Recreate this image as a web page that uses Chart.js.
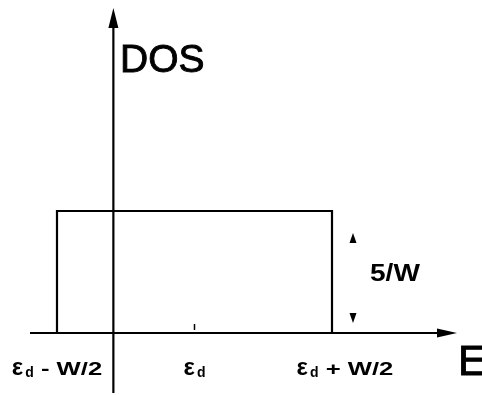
<!DOCTYPE html>
<html>
<head>
<meta charset="utf-8">
<script src="https://cdn.jsdelivr.net/npm/chart.js@4.4.1/dist/chart.umd.min.js"></script>
<style>
  html, body { margin: 0; padding: 0; background: #fff; }
  #wrap { width: 482px; height: 395px; position: relative; }
</style>
</head>
<body>
<div id="wrap"><canvas id="dos"></canvas></div>
<script>
// Flat-band density of states: constant between eps_d - W/2 and eps_d + W/2
const energies = [-1, -1, 1, 1];      // in units of W/2, centred on eps_d
const dosValues = [0, 1, 1, 0];       // height in units of 5/W
const tickValues = [-1, 0, 1];
const tickLabels = [
  { main: 'ε', sub: 'd', rest: ' - W/2' },
  { main: 'ε', sub: 'd', rest: '' },
  { main: 'ε', sub: 'd', rest: ' + W/2' }
];
const heightLabel = '5/W';
const dosAxisAt = -0.59;              // energy where the DOS axis crosses

const FONT = '"Liberation Sans", Arial, Helvetica, sans-serif';

function arrowHead(ctx, tipX, tipY, dir, len, half){
  // dir: 'up' | 'down' | 'right'
  ctx.beginPath();
  if(dir === 'up'){
    ctx.moveTo(tipX, tipY); ctx.lineTo(tipX - half, tipY + len); ctx.lineTo(tipX + half, tipY + len);
  } else if(dir === 'down'){
    ctx.moveTo(tipX, tipY); ctx.lineTo(tipX - half, tipY - len); ctx.lineTo(tipX + half, tipY - len);
  } else {
    ctx.moveTo(tipX, tipY); ctx.lineTo(tipX - len, tipY - half); ctx.lineTo(tipX - len, tipY + half);
  }
  ctx.closePath();
  ctx.fill();
}

// epsilon with subscript d, then the stretched remainder, centred on cx
function drawEpsLabel(ctx, lab, cx, baseY){
  const epsFont = `bold 24px ${FONT}`;
  const subFont = `bold 14px ${FONT}`;
  const restFont = `bold 19px ${FONT}`;
  const stretch = 1.35;
  ctx.save();
  ctx.textAlign = 'left';
  ctx.textBaseline = 'alphabetic';
  ctx.font = epsFont;
  const wEps = ctx.measureText(lab.main).width;
  ctx.font = subFont;
  const wSub = ctx.measureText(lab.sub).width;
  ctx.font = restFont;
  const wRest = ctx.measureText(lab.rest).width * stretch;
  const total = wEps + 2 + wSub + wRest;
  let x = cx - total / 2;
  ctx.font = epsFont;
  ctx.fillText(lab.main, x, baseY);
  x += wEps + 2;
  ctx.font = subFont;
  ctx.fillText(lab.sub, x, baseY + 2);
  x += wSub;
  if(lab.rest){
    ctx.translate(x, baseY);
    ctx.scale(stretch, 1);
    ctx.font = restFont;
    ctx.fillText(lab.rest, 0, 0);
  }
  ctx.restore();
}

// heavier outline text for the axis names
function heavyText(ctx, text, x, y, font){
  ctx.font = font;
  ctx.lineWidth = 0.9;
  ctx.strokeStyle = '#000';
  ctx.fillText(text, x, y);
  ctx.strokeText(text, x, y);
}

const axesPlugin = {
  id: 'dosAxes',
  beforeDatasetsDraw(chart){
    const { ctx } = chart;
    const xs = chart.scales.x, ys = chart.scales.y;
    const x0 = xs.getPixelForValue(dosAxisAt);
    const y0 = ys.getPixelForValue(0);
    ctx.save();
    ctx.strokeStyle = '#000';
    ctx.fillStyle = '#000';
    ctx.lineWidth = 2.2;
    // energy axis
    ctx.beginPath();
    ctx.moveTo(30, y0); ctx.lineTo(440, y0);
    ctx.stroke();
    arrowHead(ctx, 457, y0, 'right', 20, 4.5);
    // DOS axis
    ctx.beginPath();
    ctx.moveTo(x0, 393); ctx.lineTo(x0, 24);
    ctx.stroke();
    arrowHead(ctx, x0, 8, 'up', 20, 5);
    // small tick at eps_d
    ctx.lineWidth = 1.5;
    const xc = xs.getPixelForValue(tickValues[1]);
    ctx.beginPath();
    ctx.moveTo(xc, y0 - 9); ctx.lineTo(xc, y0 - 3);
    ctx.stroke();
    ctx.restore();
  },
  afterDraw(chart){
    const { ctx } = chart;
    const xs = chart.scales.x, ys = chart.scales.y;
    const y0 = ys.getPixelForValue(0);
    const yTop = ys.getPixelForValue(1);
    ctx.save();
    ctx.fillStyle = '#000';
    // axis names
    ctx.textBaseline = 'alphabetic';
    ctx.textAlign = 'left';
    heavyText(ctx, 'DOS', 120, 72, `39px ${FONT}`);
    heavyText(ctx, 'E', 458, 375, `43px ${FONT}`);
    // tick labels
    const offsets = [0, 0, 13];
    tickValues.forEach((v, i) => {
      drawEpsLabel(ctx, tickLabels[i], xs.getPixelForValue(v) + offsets[i], 375);
    });
    // height marker
    const ax = xs.getPixelForValue(1) + 21;
    arrowHead(ctx, ax, yTop + 22, 'up', 10, 3.5);
    arrowHead(ctx, ax, y0 - 10, 'down', 10, 3.5);
    ctx.save();
    ctx.font = `bold 24px ${FONT}`;
    ctx.translate(370, (yTop + y0) / 2 + 9);
    ctx.scale(1.17, 1);
    ctx.fillText(heightLabel, 0, 0);
    ctx.restore();
    ctx.restore();
  }
};

new Chart(document.getElementById('dos'), {
  type: 'scatter',
  data: {
    datasets: [{
      data: energies.map((e, i) => ({ x: e, y: dosValues[i] })),
      showLine: true,
      borderColor: '#000',
      borderWidth: 2.2,
      pointRadius: 0,
      fill: false,
      tension: 0
    }]
  },
  options: {
    responsive: true,
    maintainAspectRatio: false,
    animation: false,
    layout: { padding: 0 },
    plugins: { legend: { display: false }, tooltip: { enabled: false } },
    scales: {
      x: { type: 'linear', display: false, min: -1.4145, max: 2.0909 },
      y: { type: 'linear', display: false, min: -0.508, max: 2.7295 }
    }
  },
  plugins: [axesPlugin]
});
</script>
</body>
</html>
